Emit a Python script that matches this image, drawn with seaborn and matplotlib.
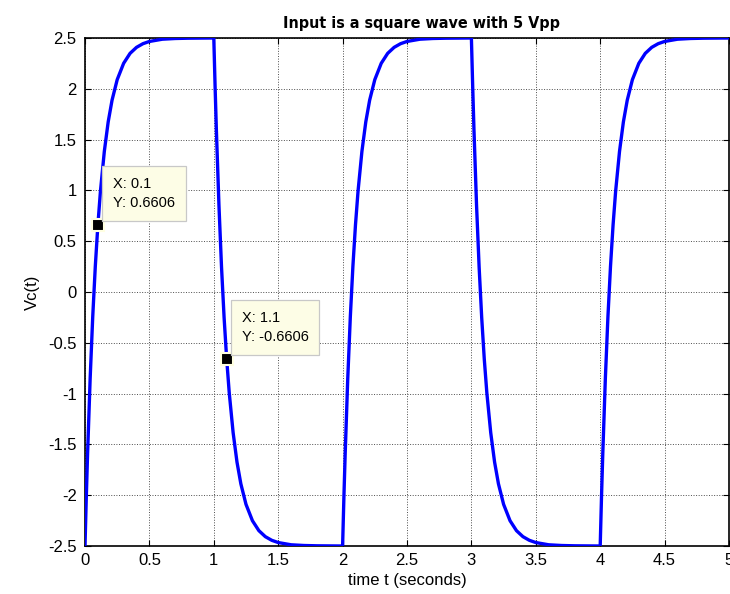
import matplotlib
matplotlib.use("Agg")
import matplotlib.pyplot as plt
import seaborn as sns
import pandas as pd

# ---- data ----
seg_offsets = [0.00, 0.01, 0.02, 0.04, 0.06, 0.08, 0.10, 0.12, 0.15, 0.18, 0.21,
               0.25, 0.30, 0.35, 0.40, 0.45, 0.50, 0.60, 0.70, 0.80, 0.90, 1.00]
rise_values = [-2.500, -2.024, -1.594, -0.852, -0.244, 0.253, 0.661, 0.994, 1.384,
               1.674, 1.888, 2.090, 2.251, 2.349, 2.408, 2.444, 2.466, 2.488,
               2.495, 2.498, 2.499, 2.500]
fall_values = [2.500, 2.024, 1.594, 0.852, 0.244, -0.253, -0.661, -0.994, -1.384,
               -1.674, -1.888, -2.090, -2.251, -2.349, -2.408, -2.444, -2.466, -2.488,
               -2.495, -2.498, -2.499, -2.500]
segment_starts = [0, 1, 2, 3, 4]
segment_kinds = ["rise", "fall", "rise", "fall", "rise"]

tip_x = [0.1, 1.1]
tip_y = [0.6606, -0.6606]
tip_labels = ["X: 0.1\nY: 0.6606", "X: 1.1\nY: -0.6606"]

x_ticks = [0, 0.5, 1, 1.5, 2, 2.5, 3, 3.5, 4, 4.5, 5]
x_tick_labels = ["0", "0.5", "1", "1.5", "2", "2.5", "3", "3.5", "4", "4.5", "5"]
y_ticks = [-2.5, -2, -1.5, -1, -0.5, 0, 0.5, 1, 1.5, 2, 2.5]
y_tick_labels = ["-2.5", "-2", "-1.5", "-1", "-0.5", "0", "0.5", "1", "1.5", "2", "2.5"]

title_text = "Input is a square wave with 5 Vpp"
x_label = "time t (seconds)"
y_label = "Vc(t)"

# ---- build table ----
t_all, v_all = [], []
for start, kind in zip(segment_starts, segment_kinds):
    vals = rise_values if kind == "rise" else fall_values
    for off, val in zip(seg_offsets, vals):
        t_all.append(start + off)
        v_all.append(val)
df = pd.DataFrame({"t": t_all, "v": v_all})

sns.set_theme(style="white")
plt.rcParams["font.family"] = ["Liberation Sans", "DejaVu Sans"]

fig = plt.figure(figsize=(7.30, 5.94), dpi=100)
ax = fig.add_axes([85 / 730, 48 / 594, 644 / 730, 508 / 594])

sns.lineplot(data=df, x="t", y="v", sort=False, estimator=None, ax=ax,
             color=(0, 0, 1), linewidth=2.4, zorder=3)

ax.set_xlim(0, 5)
ax.set_ylim(-2.5, 2.5)
ax.set_xticks(x_ticks)
ax.set_xticklabels(x_tick_labels)
ax.set_yticks(y_ticks)
ax.set_yticklabels(y_tick_labels)
ax.tick_params(direction="in", length=4, width=0.8, color="black",
               top=True, right=True, bottom=True, left=True,
               labelsize=12, labelcolor="black")
ax.tick_params(axis="x", pad=5)
ax.tick_params(axis="y", pad=6)
ax.grid(True, linestyle=":", color=(0.3, 0.3, 0.3), linewidth=0.7)
for s in ax.spines.values():
    s.set_visible(True)
    s.set_color("black")
    s.set_linewidth(1.2)

ax.set_xlabel(x_label, fontsize=12, color="black", labelpad=4)
ax.set_ylabel(y_label, fontsize=12, color="black", labelpad=6)
ax.set_title(title_text, fontsize=11.5, fontweight="bold", color="black",
             x=0.523, pad=7, family=["DejaVu Sans"], fontstretch="condensed")

# data tips
for xv, yv, lab in zip(tip_x, tip_y, tip_labels):
    ax.plot([xv], [yv], marker="s", markersize=9, color="black",
            markeredgecolor="#ffffe1", markeredgewidth=1.5, zorder=6)
    ax.annotate(lab, xy=(xv, yv), xytext=(15, 15), textcoords="offset pixels",
                ha="left", va="bottom", fontsize=10.5, linespacing=1.45,
                color="black", zorder=7,
                bbox=dict(boxstyle="square,pad=0.75", facecolor="#fdfde6",
                          edgecolor="#c8c8c8", linewidth=0.9))

fig.savefig("out.png", dpi=100, facecolor="white")
